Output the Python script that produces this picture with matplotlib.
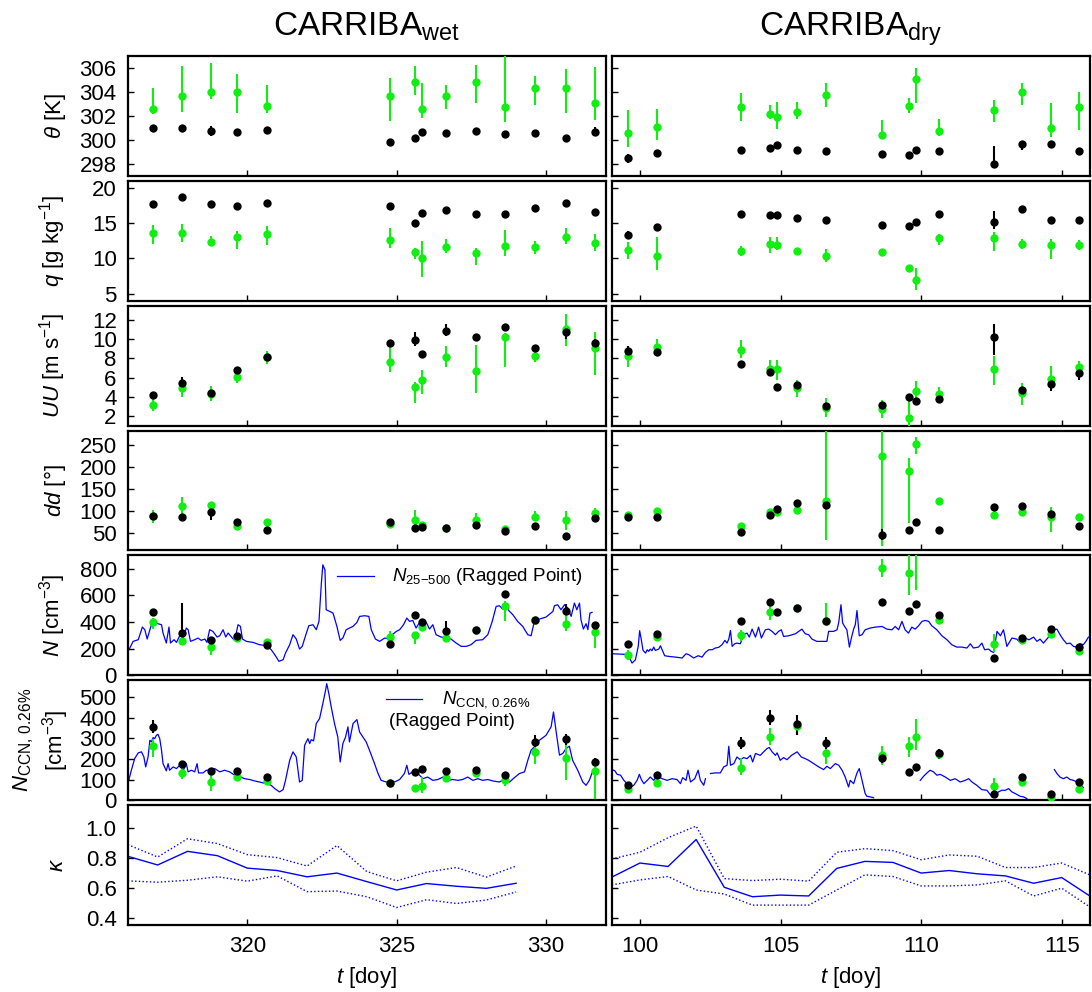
import numpy as np
import matplotlib.pyplot as plt

plt.rcParams['font.family'] = ['Liberation Sans', 'DejaVu Sans']
plt.rcParams['mathtext.fontset'] = 'custom'
plt.rcParams['mathtext.rm'] = 'Liberation Sans'
plt.rcParams['mathtext.it'] = 'Liberation Sans:italic'
plt.rcParams['mathtext.bf'] = 'Liberation Sans:bold'

nan = np.nan
GREEN = '#11ee11'
BLUE = '#0000ff'

# flight days
t_wet = [316.85, 317.81, 318.80, 319.66, 320.67, 324.77, 325.63, 325.86, 326.66, 327.64, 328.64, 329.64, 330.67, 331.65]
t_dry = [99.59, 100.61, 103.61, 104.61, 104.86, 105.60, 106.60, 108.60, 109.58, 109.81, 110.64, 112.61, 113.60, 114.63, 115.61]

# theta [K]  (k = black, g = green)
th_wet_k = [301.03, 300.97, 300.75, 300.69, 300.83, 299.83, 300.14, 300.64, 300.61, 300.78, 300.47, 300.56, 300.14, 300.67]
th_wet_k_lo = [300.95, 300.9, 300.35, 300.6, 300.75, 299.75, 300.05, 300.55, 300.25, 300.7, 300.4, 300.5, 299.8, 300.3]
th_wet_k_hi = [301.1, 301.05, 301.2, 300.8, 300.9, 299.9, 300.2, 300.7, 300.75, 300.85, 300.55, 300.6, 300.3, 301.05]
th_wet_g = [302.58, 303.67, 304.03, 303.97, 302.83, 303.69, 304.86, 302.56, 303.67, 304.81, 302.78, 304.36, 304.36, 303.11]
th_wet_g_lo = [302.14, 302.33, 303.39, 302.22, 302.28, 301.58, 303.72, 301.86, 302.61, 303.06, 301.47, 302.92, 302.28, 301.67]
th_wet_g_hi = [304.31, 306.17, 306.44, 305.5, 304.58, 305.14, 306.17, 304.78, 304.56, 306.22, 307.5, 305.33, 305.92, 306.08]
th_dry_k = [298.47, 298.94, 299.17, 299.31, 299.61, 299.17, 299.06, 298.81, 298.78, 299.17, 299.06, 297.97, 299.64, 299.64, 299.08]
th_dry_k_lo = [298.1, 298.85, 298.95, 299.2, 299.5, 299.1, 299.0, 298.75, 298.7, 299.1, 299.0, 297.9, 299.2, 299.55, 299.0]
th_dry_k_hi = [298.8, 299.05, 299.3, 299.4, 299.7, 299.25, 299.15, 298.9, 298.85, 299.25, 299.15, 299.5, 299.75, 299.75, 299.15]
th_dry_g = [300.61, 301.06, 302.72, 302.19, 301.92, 302.31, 303.78, 300.42, 302.81, 305.08, 300.75, 302.53, 304.0, 300.97, 302.78]
th_dry_g_lo = [299.44, 300.0, 301.58, 301.72, 300.89, 301.72, 302.78, 300.06, 302.28, 303.11, 300.33, 301.53, 302.92, 300.22, 300.83]
th_dry_g_hi = [302.5, 302.58, 303.89, 302.92, 303.17, 303.19, 304.78, 301.64, 303.47, 305.97, 301.72, 303.33, 304.78, 303.06, 304.0]

# q [g/kg]
q_wet_k = [17.77, 18.77, 17.77, 17.43, 17.82, 17.49, 15.08, 16.40, 16.88, 16.31, 16.31, 17.16, 17.87, 16.64]
q_wet_k_lo = [17.6, 18.6, 17.6, 17.3, 17.65, 17.35, 14.9, 16.25, 16.7, 16.15, 16.15, 17.0, 17.7, 16.5]
q_wet_k_hi = [17.9, 18.9, 17.9, 17.6, 17.95, 17.65, 15.25, 16.55, 17.05, 16.45, 16.45, 17.3, 18.0, 16.8]
q_wet_g = [13.62, 13.56, 12.38, 13.0, 13.52, 12.57, 10.92, 10.07, 11.57, 10.72, 11.77, 11.63, 13.05, 12.14]
q_wet_g_lo = [12.1, 12.34, 11.86, 11.39, 11.86, 11.53, 9.97, 7.38, 10.72, 9.12, 10.35, 10.64, 12.1, 11.01]
q_wet_g_hi = [14.79, 14.94, 13.19, 13.84, 14.55, 14.37, 11.49, 12.48, 12.71, 11.53, 14.09, 12.43, 14.33, 13.52]
q_dry_k = [13.38, 14.47, 16.26, 16.17, 16.21, 15.69, 15.40, 14.75, 14.55, 15.18, 16.26, 15.22, 16.96, 15.46, 15.40]
q_dry_k_lo = [12.7, 14.3, 16.1, 16.0, 16.05, 15.55, 15.25, 14.6, 14.4, 15.0, 16.1, 14.23, 16.8, 15.3, 15.25]
q_dry_k_hi = [13.9, 14.65, 16.4, 16.3, 16.35, 15.85, 15.55, 14.9, 14.7, 15.3, 16.4, 16.74, 17.1, 15.6, 15.55]
q_dry_g = [11.15, 10.35, 11.06, 12.06, 11.96, 11.06, 10.30, 10.87, 8.70, 6.96, 12.95, 12.85, 12.0, 11.86, 11.91]
q_dry_g_lo = [9.87, 8.31, 10.35, 10.78, 11.2, 10.8, 9.5, 10.4, 8.5, 5.48, 11.96, 11.01, 11.39, 9.97, 11.2]
q_dry_g_hi = [12.34, 13.05, 11.77, 13.05, 13.05, 11.3, 11.39, 11.3, 8.9, 8.70, 13.52, 13.76, 12.71, 12.71, 12.66]

# UU [m/s]
uu_wet_k = [4.17, 5.49, 4.38, 6.80, 8.12, 9.59, 9.90, 8.43, 10.85, 10.26, 11.31, 9.14, 10.78, 9.66]
uu_wet_k_lo = [4.05, 4.9, 4.0, 6.7, 8.0, 9.45, 9.27, 8.3, 10.39, 9.9, 11.0, 9.0, 10.05, 9.3]
uu_wet_k_hi = [4.3, 6.06, 4.7, 6.9, 8.25, 9.7, 10.78, 8.55, 11.55, 10.6, 11.6, 9.25, 11.2, 10.0]
uu_wet_g = [3.12, 4.97, 4.28, 6.06, 8.16, 7.63, 5.04, 5.75, 8.12, 6.65, 10.22, 8.30, 11.10, 9.10]
uu_wet_g_lo = [2.52, 4.03, 3.57, 5.49, 7.43, 6.54, 3.39, 4.28, 7.07, 4.45, 7.07, 7.59, 9.27, 6.3]
uu_wet_g_hi = [3.75, 5.43, 5.15, 6.48, 8.75, 9.27, 5.6, 6.83, 9.34, 9.45, 10.68, 8.75, 12.6, 10.78]
uu_dry_k = [8.75, 8.64, 7.42, 6.62, 5.07, 5.25, 3.08, 3.12, 3.96, 3.54, 3.82, 10.29, 4.73, 5.33, 6.51]
uu_dry_k_lo = [8.05, 8.3, 7.3, 6.4, 4.95, 5.0, 2.8, 2.8, 3.85, 3.4, 3.7, 8.4, 4.4, 4.66, 5.8]
uu_dry_k_hi = [9.34, 9.0, 7.55, 6.85, 5.2, 5.45, 3.3, 3.5, 4.1, 3.7, 3.95, 11.55, 5.0, 5.78, 6.9]
uu_dry_g = [8.22, 9.21, 8.93, 6.93, 6.90, 4.91, 2.87, 2.70, 1.79, 4.62, 4.28, 6.93, 4.38, 5.85, 7.07]
uu_dry_g_lo = [7.07, 8.75, 8.05, 6.3, 5.78, 4.03, 1.93, 1.82, 0.5, 3.57, 3.68, 5.25, 3.15, 4.97, 6.48]
uu_dry_g_hi = [9.34, 10.05, 9.9, 7.8, 7.8, 5.78, 3.92, 3.68, 3.57, 5.67, 5.0, 8.3, 5.43, 7.25, 7.77]

# dd [deg]
dd_wet_k = [87.9, 86.5, 97.9, 75.1, 57.5, 74.2, 60.5, 63.7, 60.5, 68.3, 55.3, 66.0, 43.8, 84.2]
dd_wet_k_lo = [85, 84, 80.4, 72, 55, 72, 58, 61, 58, 66, 53, 64, 41, 82]
dd_wet_k_hi = [91, 89, 114.6, 78, 60, 77, 63, 66, 63, 71, 58, 68, 46, 87]
dd_wet_g = [89.5, 110.7, 113.0, 66.7, 74.2, 71.2, 80.4, 68.9, 60.5, 80.4, 59.1, 86.5, 80.4, 95.7]
dd_wet_g_lo = [72.8, 89.5, 105, 62, 69, 66, 61.4, 64, 57, 74, 56, 78, 57.5, 82]
dd_wet_g_hi = [103.2, 132.2, 120, 70, 79, 76, 101.6, 73, 64, 95, 62, 100, 100.9, 106.7]
dd_dry_k = [86.5, 87.2, 52.2, 91.8, 104.8, 118.5, 113.0, 44.5, 57.5, 75.1, 55.9, 109.4, 110.7, 93.4, 66.0]
dd_dry_k_lo = [84, 85, 50, 89, 102, 116, 110, 34.7, 53, 72, 53, 104, 104, 86, 63]
dd_dry_k_hi = [89, 90, 55, 94, 107, 121, 116, 59, 62, 78, 58, 115, 115, 99, 69]
dd_dry_g = [91.8, 100.9, 65.1, 97.9, 97.9, 103.2, 122.1, 226.5, 192.2, 253.2, 123.7, 91.8, 97.0, 85.6, 86.5]
dd_dry_g_lo = [88, 94, 61, 92, 92, 95, 33, 19.4, 72.8, 231, 118, 88, 92, 52, 82]
dd_dry_g_hi = [96, 108, 69, 104, 104, 108, 300, 300, 221, 270.5, 130, 96, 102, 109, 91]

# N [cm-3]
n_wet_k = [472, 317, 267, 292, 230, 237.5, 452, 397, 330, 340, 610, 415, 482, 377]
n_wet_k_lo = [460, 305, 255, 280, 220, 227, 440, 385, 317, 330, 598, 403, 467, 365]
n_wet_k_hi = [485, 543, 280, 305, 240, 248, 465, 410, 405, 352, 622, 440, 537, 390]
n_wet_g = [400, 255, 215, 280, 247, 287, 305, 362.5, 280, 340, 517, 412, 387, 322]
n_wet_g_lo = [347, 245, 155, 270, 237, 255, 235, 340, 270, 330, 405, 400, 330, 205]
n_wet_g_hi = [430, 265, 242, 290, 257, 330, 322, 375, 290, 350, 555, 425, 467, 342]
n_dry_k = [237.5, 310, 405, 547, 477, 505, 410, 552, 482, 537.5, 450, 130, 277, 345, 212]
n_dry_k_lo = [225, 298, 393, 535, 465, 493, 398, 540, 470, 525, 438, 118, 265, 333, 200]
n_dry_k_hi = [250, 322, 417, 560, 490, 517, 422, 565, 495, 550, 462, 142, 290, 357, 225]
n_dry_g = [150, 285, 305, 472, nan, 505, 405, 805, 772, 1000, 415, 237, 267, 310, 180]
n_dry_g_lo = [117, 270, 255, 417, nan, 495, 395, 742, 605, 642, 400, 172, 255, 295, 165]
n_dry_g_hi = [192, 300, 342, 517, nan, 515, 543, 872, 950, 1050, 430, 310, 280, 325, 195]

# N_CCN,0.26% [cm-3]
c_wet_k = [355, 177.5, 141.7, 140, 110, 85.5, 134, 150, 140, 145, 122, 282, 298.5, 185]
c_wet_k_lo = [323, 170, 135, 133, 103, 78, 127, 143, 133, 138, 115, 258, 265, 165]
c_wet_k_hi = [387, 185, 149, 147, 117, 93, 141, 157, 147, 152, 129, 314.5, 322, 205]
c_wet_g = [261, 132, 88, 110, 93, 85.5, 61, 67.5, 105, 132, 96.6, 232, 202, 141.7]
c_wet_g_lo = [209.5, 104, 45, 103, 86, 78, 54, 37, 98, 125, 71, 177.5, 100, 8]
c_wet_g_hi = [298.5, 170, 121, 117, 100, 93, 68, 113, 112, 139, 120, 258, 306, 177.5]
c_dry_k = [72.4, 121, 277, 400, nan, 371, 277, 202, 137, 161, 229, 29, 113, 29, 88]
c_dry_k_lo = [60, 114, 250, 363, nan, 316, 250, 180, 128, 152, 200, 22, 106, 22, 80]
c_dry_k_hi = [90, 128, 306, 436, nan, 413, 306, 225, 146, 170, 250, 36, 120, 36, 96]
c_dry_g = [52, 81, 158, 306, nan, 360, 229, 218, 263, 306, 222, 67.5, 88, 15.7, 52]
c_dry_g_lo = [45, 70, 121, 266, nan, 315, 175, 169, 209.5, 242, 210, 24, 80, 10, 45]
c_dry_g_hi = [60, 92, 202, 347, nan, 387, 250, 261, 306, 390.7, 235, 105, 96, 22, 60]

# Ragged Point N_25-500
rp_n_wet_t = [316.04, 316.18, 316.35, 316.49, 316.57, 316.65, 316.79, 316.90, 317.01, 317.13,
              317.18, 317.29, 317.38, 317.43, 317.55, 317.63, 317.74, 317.87, 317.96, 318.02,
              318.10, 318.24, 318.35, 318.46, 318.58, 318.65, 318.74, 318.85, 318.99, 319.08,
              319.19, 319.28, 319.36, 319.50, 319.58, 319.69, 319.77, 319.84, 319.97, 320.19,
              320.41, 320.64, 320.80, 320.92, 321.06, 321.20, 321.28, 321.42, 321.53, 321.64,
              321.75, 321.84, 321.95, 322.06, 322.20, 322.31, 322.40, 322.48, 322.53, 322.60,
              322.64, 322.76, 322.87, 323.00, 323.11, 323.20, 323.31, 323.42, 323.54, 323.67,
              323.76, 323.93, 324.07, 324.15, 324.29, 324.43, 324.60, 324.74, 324.85, 324.99,
              325.10, 325.23, 325.34, 325.43, 325.54, 325.65, 325.74, 325.88, 325.99, 326.10,
              326.21, 326.32, 326.49, 326.66, 326.82, 326.99, 327.16, 327.33, 327.49, 327.66,
              327.88, 328.05, 328.20, 328.33, 328.44, 328.55, 328.66, 328.78, 328.89, 329.05,
              329.22, 329.39, 329.50, 329.61, 329.78, 330.00, 330.23, 330.28, 330.39, 330.50,
              330.62, 330.73, 330.84, 330.95, 331.03, 331.12, 331.17, 331.25, 331.34, 331.40,
              331.47, 331.54]
rp_n_wet = [192.5, 255, 267.5, 362.5, 342.5, 272.5, 380, 397.5, 387.5, 380,
            317.5, 242.5, 362.5, 242.5, 267.5, 247.5, 297.5, 287.5, 355, 342.5,
            255, 267.5, 280, 262.5, 272.5, 247.5, 342.5, 330, 287.5, 297.5,
            342.5, 287.5, 317.5, 280, 262.5, 380, 367.5, 272.5, 255, 247.5,
            230, 222.5, 192.5, 155, 105, 117.5, 167.5, 230, 305, 272.5,
            197.5, 217.5, 297.5, 372.5, 380, 342.5, 405, 692.5, 830, 792.5,
            492.5, 480, 467.5, 367.5, 262.5, 280, 342.5, 355, 367.5, 397.5,
            442.5, 447.5, 442.5, 342.5, 272.5, 255, 280, 272.5, 305, 330,
            342.5, 380, 430, 405, 412.5, 355, 387.5, 367.5, 397.5, 347.5,
            380, 305, 287.5, 280, 272.5, 242.5, 217.5, 217.5, 230, 262.5,
            267.5, 305, 405, 517.5, 522.5, 497.5, 512.5, 480, 455, 405,
            367.5, 305, 297.5, 405, 422.5, 437.5, 480, 522.5, 530, 492.5,
            530, 505, 442.5, 542.5, 492.5, 542.5, 417.5, 347.5, 387.5, 342.5,
            467.5, 472.5]
rp_n_dry_t = [99.01, 99.54, 99.63, 99.72, 99.84, 99.94, 99.99, 100.05, 100.11, 100.20,
              100.26, 100.31, 100.37, 100.43, 100.49, 100.55, 100.67, 100.73, 100.79, 100.88,
              101.03, 101.26, 101.50, 101.64, 101.74, 101.91, 102.07, 102.21, 102.33, 102.45,
              102.57, 102.68, 102.80, 102.92, 103.02, 103.10, 103.16, 103.22, 103.28, 103.37,
              103.45, 103.57, 103.69, 103.81, 103.89, 103.99, 104.11, 104.22, 104.32, 104.46,
              104.58, 104.70, 104.82, 104.93, 105.03, 105.11, 105.29, 105.53, 105.76, 105.88,
              106.00, 106.12, 106.29, 106.47, 106.65, 106.71, 106.89, 107.01, 107.07, 107.15,
              107.21, 107.28, 107.36, 107.45, 107.52, 107.60, 107.66, 107.72, 107.80, 107.90,
              108.01, 108.19, 108.37, 108.61, 108.78, 108.96, 109.08, 109.20, 109.32, 109.43,
              109.55, 109.67, 109.79, 109.91, 110.03, 110.15, 110.27, 110.38, 110.56, 110.74,
              110.92, 111.09, 111.27, 111.45, 111.63, 111.75, 111.86, 112.04, 112.16, 112.26,
              112.40, 112.49, 112.58, 112.70, 112.82, 112.93, 113.05, 113.23, 113.40, 113.52,
              113.70, 113.84, 114.00, 114.12, 114.23, 114.35, 114.53, 114.71, 114.83, 114.94,
              115.06, 115.18, 115.30, 115.42, 115.54, 115.65, 115.77, 115.86, 115.95]
rp_n_dry = [162, 157, 130, 92, 117, 217, 335, 267, 187, 167,
            192, 180, 197, 185, 212, 187, 197, 222, 192, 147,
            142, 137, 130, 162, 155, 130, 147, 137, 172, 192,
            192, 205, 210, 230, 262, 242, 272, 337, 217, 237,
            242, 237, 305, 317, 287, 347, 287, 362, 280, 342,
            347, 330, 305, 330, 342, 292, 297, 312, 347, 312,
            305, 272, 255, 255, 255, 330, 330, 342, 397, 530,
            392, 367, 342, 212, 280, 347, 380, 487, 297, 305,
            342, 355, 362, 367, 347, 342, 367, 342, 405, 342,
            317, 362, 347, 372, 405, 412, 405, 372, 342, 297,
            267, 230, 212, 212, 205, 237, 205, 212, 242, 192,
            197, 180, 172, 330, 297, 342, 217, 280, 272, 247,
            280, 267, 287, 255, 272, 242, 287, 342, 347, 305,
            267, 237, 242, 217, 212, 237, 230, 255, 287]

# Ragged Point N_CCN,0.26%
rp_c_wet_t = [316.04, 316.12, 316.23, 316.35, 316.46, 316.54, 316.60, 316.68, 316.74, 316.79,
              316.85, 316.90, 316.96, 317.01, 317.07, 317.13, 317.18, 317.29, 317.35, 317.40,
              317.52, 317.63, 317.74, 317.85, 317.96, 318.02, 318.13, 318.24, 318.32, 318.37,
              318.52, 318.63, 318.80, 318.91, 319.08, 319.24, 319.41, 319.58, 319.72, 319.91,
              320.08, 320.25, 320.41, 320.64, 320.80, 320.92, 321.08, 321.20, 321.28, 321.42,
              321.53, 321.64, 321.75, 321.84, 321.92, 322.03, 322.09, 322.14, 322.22, 322.31,
              322.42, 322.53, 322.62, 322.66, 322.73, 322.81, 322.92, 323.03, 323.11, 323.20,
              323.29, 323.37, 323.42, 323.54, 323.67, 323.76, 323.87, 323.98, 324.09, 324.26,
              324.37, 324.48, 324.65, 324.82, 324.93, 325.10, 325.26, 325.34, 325.41, 325.54,
              325.71, 325.88, 326.04, 326.21, 326.38, 326.55, 326.71, 326.88, 327.05, 327.21,
              327.38, 327.55, 327.72, 327.88, 328.05, 328.22, 328.44, 328.61, 328.78, 328.94,
              329.11, 329.28, 329.39, 329.50, 329.61, 329.78, 330.00, 330.17, 330.25, 330.34,
              330.45, 330.56, 330.67, 330.78, 330.89, 331.06, 331.23, 331.34, 331.45, 331.54]
rp_c_wet = [100, 145, 201, 229, 234, 209, 161, 209, 290, 282,
            303, 298, 314, 319, 298, 242, 177, 142, 177, 145,
            161, 153, 169, 142, 177, 137, 145, 137, 177, 132,
            132, 145, 145, 153, 137, 145, 137, 121, 116, 104,
            100, 93, 88, 80, 72, 56, 40, 51, 96, 193,
            234, 209, 88, 96, 266, 298, 274, 293, 287, 371,
            395, 468, 532, 564, 516, 451, 371, 306, 185, 274,
            306, 355, 282, 371, 390, 330, 306, 282, 242, 177,
            132, 96, 88, 96, 88, 100, 129, 169, 125, 137,
            129, 104, 112, 96, 100, 112, 96, 100, 96, 100,
            112, 96, 104, 96, 100, 93, 88, 100, 88, 109,
            129, 137, 193, 242, 258, 290, 314, 355, 427, 330,
            218, 226, 250, 261, 193, 145, 88, 72, 96, 132]
rp_c_dry_t = [99.01, 99.11, 99.19, 99.31, 99.43, 99.54, 99.66, 99.78, 99.90, 99.98,
              100.05, 100.14, 100.26, 100.37, 100.49, 100.61, 100.79, 100.97, 101.14, 101.32,
              101.44, 101.52, 101.64, 101.71, 101.80, 101.95, 102.07, 102.15, 102.27, 102.33,
              102.42,
              102.51, 102.68, 102.86, 102.98, 103.10, 103.16, 103.22, 103.34, 103.45, 103.57,
              103.69, 103.81, 103.93, 104.01, 104.11, 104.28, 104.40, 104.52, 104.60, 104.70,
              104.82, 104.88, 104.99, 105.11, 105.23, 105.39, 105.59, 105.74, 105.88, 106.00,
              106.18, 106.36, 106.53, 106.65, 106.77, 106.95, 107.07, 107.19, 107.30, 107.42,
              107.48, 107.60, 107.72, 107.80, 107.90, 108.01, 108.07, 108.19, 108.31,
              109.0,
              109.97, 110.09, 110.21, 110.32, 110.44, 110.56, 110.68, 110.86, 111.04, 111.21,
              111.39, 111.57, 111.69, 111.81, 111.98, 112.16, 112.34, 112.52, 112.63, 112.75,
              112.87, 112.99, 113.11, 113.23, 113.35, 113.52, 113.64, 113.76,
              114.2,
              114.74, 114.83, 114.94, 115.06, 115.18, 115.30, 115.42, 115.54, 115.65, 115.77]
rp_c_dry = [148, 142, 125, 121, 96, 80, 61, 72, 96, 125,
            100, 80, 96, 112, 96, 116, 104, 96, 104, 100,
            80, 109, 96, 145, 88, 104, 145, 96, 72, 104,
            nan,
            129, 132, 132, 161, 169, 261, 169, 177, 209, 196,
            206, 201, 217, 185, 226, 217, 234, 250, 255, 234,
            217, 229, 193, 206, 196, 217, 234, 209, 201, 193,
            177, 161, 148, 164, 153, 177, 169, 145, 112, 64,
            96, 80, 132, 153, 96, 32, 19, 16, 12,
            nan,
            96, 116, 132, 145, 137, 121, 125, 112, 96, 104,
            88, 96, 104, 88, 72, 51, 48, 16, 24, 40,
            48, 48, 56, 40, 32, 19, 16, 8,
            nan,
            148, 129, 112, 104, 112, 100, 96, 88, 80, 61]

# kappa
kap_wet_t = [316, 317, 318, 319, 320, 321, 322, 323, 324, 325, 326, 327, 328, 329]
kap_wet = [0.809, 0.751, 0.842, 0.813, 0.730, 0.714, 0.672, 0.697, 0.640, 0.584, 0.627, 0.609, 0.595, 0.629]
kap_wet_hi = [0.887, 0.804, 0.926, 0.894, 0.820, 0.800, 0.744, 0.881, 0.707, 0.645, 0.703, 0.734, 0.670, 0.744]
kap_wet_lo = [0.645, 0.636, 0.649, 0.672, 0.643, 0.678, 0.573, 0.577, 0.539, 0.467, 0.519, 0.494, 0.517, 0.571]
kap_dry_t = [99, 100, 101, 102, 103, 104, 105, 106, 107, 108, 109, 110, 111, 112, 113, 114, 115, 116]
kap_dry = [0.670, 0.764, 0.741, 0.921, 0.602, 0.539, 0.550, 0.544, 0.728, 0.775, 0.768, 0.697, 0.714, 0.692, 0.678, 0.629, 0.667, 0.544]
kap_dry_hi = [0.791, 0.836, 0.933, 1.011, 0.660, 0.647, 0.656, 0.643, 0.836, 0.860, 0.847, 0.786, 0.818, 0.809, 0.734, 0.734, 0.764, 0.685]
kap_dry_lo = [0.618, 0.651, 0.674, 0.584, 0.557, 0.483, 0.483, 0.483, 0.584, 0.685, 0.674, 0.611, 0.611, 0.618, 0.645, 0.544, 0.596, 0.471]

ylabels = [r'$\theta$ [K]', r'$q$ [g kg$^{-1}$]', r'$UU$ [m s$^{-1}$]', r'$dd$ [°]',
           r'$N$ [cm$^{-3}$]', r'$N_{\mathrm{CCN,\,0.26\%}}$' + '\n' + r'[cm$^{-3}$]', r'$\kappa$']
ylims = [(297, 307), (4, 21), (1, 13.5), (10, 284), (0, 900), (0, 580), (0.35, 1.15)]
yticks = [[298, 300, 302, 304, 306], [5, 10, 15, 20], [2, 4, 6, 8, 10, 12],
          [50, 100, 150, 200, 250], [0, 200, 400, 600, 800], [0, 100, 200, 300, 400, 500],
          [0.4, 0.6, 0.8, 1.0]]


def points(ax, t, v, lo, hi, color):
    v = np.array(v, float)
    err = [v - np.array(lo, float), np.array(hi, float) - v]
    ax.errorbar(t, v, yerr=err, fmt='o', color=color, ms=6, mew=0,
                elinewidth=1.5, capsize=1.3, capthick=1.2, zorder=3)


fig, axes = plt.subplots(7, 2, figsize=(10.92, 9.92), dpi=100, sharex='col', sharey='row')
plt.subplots_adjust(left=0.117, right=0.998, top=0.9435, bottom=0.0675, wspace=0.0126, hspace=0.042)

wet = [(th_wet_k, th_wet_k_lo, th_wet_k_hi, th_wet_g, th_wet_g_lo, th_wet_g_hi),
       (q_wet_k, q_wet_k_lo, q_wet_k_hi, q_wet_g, q_wet_g_lo, q_wet_g_hi),
       (uu_wet_k, uu_wet_k_lo, uu_wet_k_hi, uu_wet_g, uu_wet_g_lo, uu_wet_g_hi),
       (dd_wet_k, dd_wet_k_lo, dd_wet_k_hi, dd_wet_g, dd_wet_g_lo, dd_wet_g_hi),
       (n_wet_k, n_wet_k_lo, n_wet_k_hi, n_wet_g, n_wet_g_lo, n_wet_g_hi),
       (c_wet_k, c_wet_k_lo, c_wet_k_hi, c_wet_g, c_wet_g_lo, c_wet_g_hi)]
dry = [(th_dry_k, th_dry_k_lo, th_dry_k_hi, th_dry_g, th_dry_g_lo, th_dry_g_hi),
       (q_dry_k, q_dry_k_lo, q_dry_k_hi, q_dry_g, q_dry_g_lo, q_dry_g_hi),
       (uu_dry_k, uu_dry_k_lo, uu_dry_k_hi, uu_dry_g, uu_dry_g_lo, uu_dry_g_hi),
       (dd_dry_k, dd_dry_k_lo, dd_dry_k_hi, dd_dry_g, dd_dry_g_lo, dd_dry_g_hi),
       (n_dry_k, n_dry_k_lo, n_dry_k_hi, n_dry_g, n_dry_g_lo, n_dry_g_hi),
       (c_dry_k, c_dry_k_lo, c_dry_k_hi, c_dry_g, c_dry_g_lo, c_dry_g_hi)]

# Ragged Point lines first, so points sit on top
axes[4, 0].plot(rp_n_wet_t, rp_n_wet, color=BLUE, lw=0.9, zorder=2)
axes[4, 1].plot(rp_n_dry_t, rp_n_dry, color=BLUE, lw=0.9, zorder=2)
axes[5, 0].plot(rp_c_wet_t, rp_c_wet, color=BLUE, lw=0.9, zorder=2)
axes[5, 1].plot(rp_c_dry_t, rp_c_dry, color=BLUE, lw=0.9, zorder=2)

for row in range(6):
    k, klo, khi, g, glo, ghi = wet[row]
    points(axes[row, 0], t_wet, g, glo, ghi, GREEN)
    points(axes[row, 0], t_wet, k, klo, khi, 'black')
    k, klo, khi, g, glo, ghi = dry[row]
    points(axes[row, 1], t_dry, g, glo, ghi, GREEN)
    points(axes[row, 1], t_dry, k, klo, khi, 'black')

for ax, t, m, lo, hi in [(axes[6, 0], kap_wet_t, kap_wet, kap_wet_lo, kap_wet_hi),
                         (axes[6, 1], kap_dry_t, kap_dry, kap_dry_lo, kap_dry_hi)]:
    ax.plot(t, m, color=BLUE, lw=1.0)
    ax.plot(t, hi, color=BLUE, lw=1.0, ls=':')
    ax.plot(t, lo, color=BLUE, lw=1.0, ls=':')

# legends drawn by hand
a = axes[4, 0]
a.plot([0.438, 0.516], [0.825, 0.825], color=BLUE, lw=0.9, transform=a.transAxes)
a.text(0.553, 0.825, r'$N_{25\mathrm{-}500}$ (Ragged Point)', transform=a.transAxes,
       fontsize=13.5, va='center', ha='left')
a = axes[5, 0]
a.plot([0.541, 0.616], [0.842, 0.842], color=BLUE, lw=0.9, transform=a.transAxes)
a.text(0.658, 0.842, r'$N_{\mathrm{CCN,\,0.26\%}}$', transform=a.transAxes,
       fontsize=13.5, va='center', ha='left')
a.text(0.547, 0.66, '(Ragged Point)', transform=a.transAxes,
       fontsize=13.5, va='center', ha='left')

for row in range(7):
    for col in range(2):
        ax = axes[row, col]
        ax.set_ylim(*ylims[row])
        ax.set_yticks(yticks[row])
        ax.tick_params(direction='in', length=4, width=1, labelsize=16, pad=8,
                       top=False, right=False)
        for s in ax.spines.values():
            s.set_linewidth(1.6)
    axes[row, 0].set_ylabel(ylabels[row], fontsize=16)
    axes[row, 0].yaxis.set_label_coords(-0.124 if row != 5 else -0.118, 0.5)

axes[6, 0].set_yticklabels(['0.4', '0.6', '0.8', '1.0'])
axes[0, 0].set_xlim(316, 332)
axes[0, 1].set_xlim(99, 116)
axes[0, 0].set_xticks([320, 325, 330])
axes[0, 1].set_xticks([100, 105, 110, 115])

axes[0, 0].set_title(r'CARRIBA$_{\mathrm{wet}}$', fontsize=24, pad=15)
axes[0, 1].set_title(r'CARRIBA$_{\mathrm{dry}}$', fontsize=24, pad=15)
axes[6, 0].set_xlabel(r'$t$ [doy]', fontsize=16, labelpad=6)
axes[6, 1].set_xlabel(r'$t$ [doy]', fontsize=16, labelpad=6)

plt.savefig('out.png', dpi=100)
